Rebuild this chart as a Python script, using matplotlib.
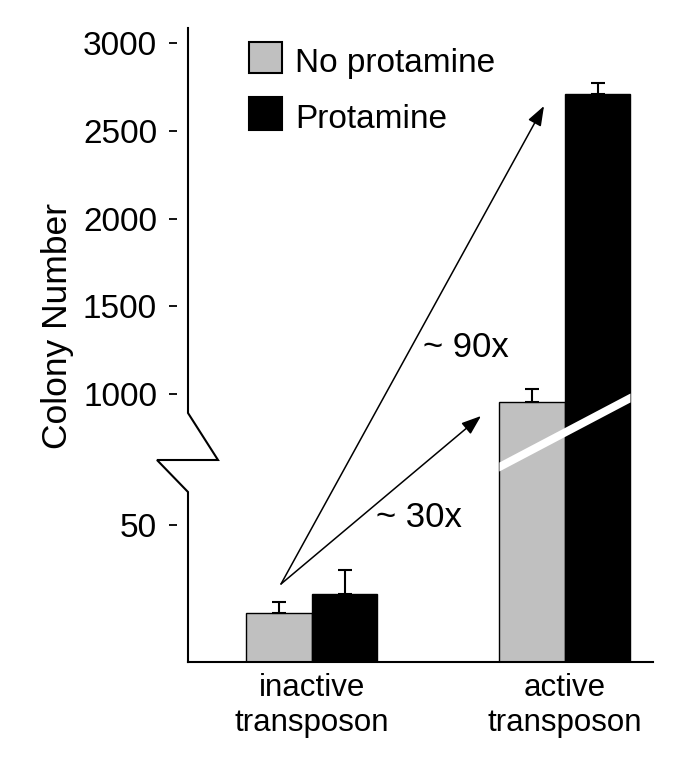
import matplotlib
matplotlib.use("Agg")
import matplotlib.pyplot as plt
import matplotlib.transforms as mtransforms
from matplotlib.patches import Polygon, Rectangle
import numpy as np

plt.rcParams["font.family"] = ["Liberation Sans", "DejaVu Sans"]

# data
groups = ["inactive\ntransposon", "active\ntransposon"]
no_prot = [18, 954]
no_prot_err = [4, 72]
prot = [25, 2709]
prot_err = [8.5, 63]
yticks = [50, 1000, 1500, 2000, 2500, 3000]

# broken y scale: colony value -> height (px above baseline)
BRK_V = [0, 62, 889, 4000]
BRK_H = [0, 169.9, 249.0, 793.8]


def fwd(v):
    return np.interp(v, BRK_V, BRK_H)


def inv(h):
    return np.interp(h, BRK_H, BRK_V)


W, H = 685, 764
fig = plt.figure(figsize=(W / 100, H / 100), dpi=100)
L, B, R, T = 188, 662, 653, 28          # axes box in px (top-left origin)
ax = fig.add_axes([L / W, 1 - B / H, (R - L) / W, (B - T) / H])
ax.set_yscale("function", functions=(fwd, inv))

x = np.arange(len(groups))
w = 0.259
ax.bar(x - w / 2, no_prot, w, color="#c0c0c0", edgecolor="k", lw=1, zorder=2)
ax.bar(x + w / 2, prot, w, color="k", edgecolor="k", lw=1, zorder=2)
ax.errorbar(x - w / 2, no_prot, yerr=[np.zeros(2), no_prot_err], fmt="none", ecolor="k",
            elinewidth=1.5, capsize=5, capthick=1.5, zorder=3)
ax.errorbar(x + w / 2, prot, yerr=[np.zeros(2), prot_err], fmt="none", ecolor="k",
            elinewidth=1.5, capsize=5, capthick=1.5, zorder=3)

ax.set_ylim(0, 3088)
ax.set_xlim(-0.490, 1.348)

# axes styling
for s in ("top", "right"):
    ax.spines[s].set_visible(False)
ax.spines["bottom"].set_linewidth(1.5)
ax.spines["left"].set_position(("outward", 7.9))
ax.spines["left"].set_visible(False)
ax.set_yticks(yticks, [str(t) for t in yticks])
ax.yaxis.set_minor_locator(matplotlib.ticker.NullLocator())
ax.tick_params(axis="y", direction="out", length=5.8, width=1.3, pad=8.6, labelsize=24)
ax.set_xticks(x, groups)
ax.tick_params(axis="x", length=0, pad=8, labelsize=22.5)

# broken left axis line
def px(xp, yp):
    return ((xp - L) / (R - L), (B - yp) / (B - T))

brk = [px(188, 28), px(188, 413), px(218, 460), px(157, 460), px(188, 492), px(188, 662)]
ax.plot([p[0] for p in brk], [p[1] for p in brk], color="k", lw=1.5, transform=ax.transAxes,
        clip_on=False, solid_joinstyle="miter")

# white slash across the active bars
blend = mtransforms.blended_transform_factory(ax.transData, ax.transAxes)
y0, y1 = px(0, 467)[1], px(0, 398)[1]
dh = 4.5 / (B - T)
ax.add_patch(Polygon([(1 - w, y0 - dh), (1 + w, y1 - dh), (1 + w, y1 + dh), (1 - w, y0 + dh)],
                     closed=True, color="white", lw=0, transform=blend, zorder=4))

# fold-change arrows
arw = dict(arrowstyle="-|>,head_length=0.6,head_width=0.22", mutation_scale=20, lw=1.1,
           color="k", shrinkA=0, shrinkB=0)
ax.annotate("", xy=px(544, 106), xytext=px(281, 584), xycoords="axes fraction",
            textcoords="axes fraction", arrowprops=arw)
ax.annotate("", xy=px(481, 416), xytext=px(281, 584), xycoords="axes fraction",
            textcoords="axes fraction", arrowprops=arw)
ax.text(*px(466, 357), "~ 90x", transform=ax.transAxes, ha="center", va="baseline", fontsize=25)
ax.text(*px(419, 527), "~ 30x", transform=ax.transAxes, ha="center", va="baseline", fontsize=25)

# y label
fig.text(57 / W, 1 - 326 / H, "Colony Number", rotation=90, ha="center", va="center", fontsize=25.5)

# legend
fig.patches.append(Rectangle((249 / W, 1 - 73 / H), 33 / W, 31 / H, facecolor="#c0c0c0",
                             edgecolor="k", lw=1.5, transform=fig.transFigure))
fig.patches.append(Rectangle((249 / W, 1 - 130 / H), 33 / W, 33 / H, facecolor="k",
                             edgecolor="k", lw=1.5, transform=fig.transFigure))
fig.text(295 / W, 1 - 72 / H, "No protamine", ha="left", va="baseline", fontsize=24)
fig.text(295 / W, 1 - 128 / H, "Protamine", ha="left", va="baseline", fontsize=24)

fig.savefig("out.png", dpi=100)
